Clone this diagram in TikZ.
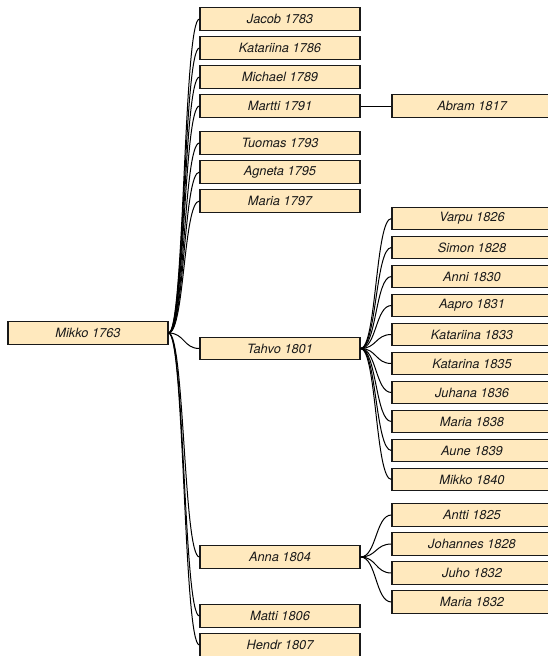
\documentclass[tikz,border=0pt]{standalone}
\usepackage{fontspec}
\setmainfont{TeX Gyre Heros}
\begin{document}
\begin{tikzpicture}[x=1pt,y=-1pt,
  pbox/.style={draw=black!90,line width=1.1pt,fill=boxfill,minimum width=160pt,minimum height=22.5pt,inner sep=0pt,
    font=\fontsize{12.8}{14}\selectfont\itshape,text=black!90},
  link/.style={draw=black,line width=1pt}]
\definecolor{boxfill}{RGB}{255,233,190}
\useasboundingbox (0,0) rectangle (548,656);
\clip (0,0) rectangle (548,656);
% level 0
\node[pbox] (mikko) at (88,333) {Mikko 1763};
% level 1
\node[pbox] (jacob) at (280,19) {Jacob 1783};
\node[pbox] (katariina1) at (280,48) {Katariina 1786};
\node[pbox] (michael) at (280,77) {Michael 1789};
\node[pbox] (martti) at (280,106) {Martti 1791};
\node[pbox] (tuomas) at (280,143) {Tuomas 1793};
\node[pbox] (agneta) at (280,172) {Agneta 1795};
\node[pbox] (maria1) at (280,201) {Maria 1797};
\node[pbox] (tahvo) at (280,348.5) {Tahvo 1801};
\node[pbox] (anna) at (280,557) {Anna 1804};
\node[pbox] (matti) at (280,616) {Matti 1806};
\node[pbox] (hendr) at (280,645) {Hendr 1807};
% level 2
\node[pbox] (abram) at (472,106) {Abram 1817};
\node[pbox] (varpu) at (472,218.5) {Varpu 1826};
\node[pbox] (simon) at (472,247.5) {Simon 1828};
\node[pbox] (anni) at (472,276.5) {Anni 1830};
\node[pbox] (aapro) at (472,305.5) {Aapro 1831};
\node[pbox] (katariina2) at (472,334.5) {Katariina 1833};
\node[pbox] (katarina) at (472,363.5) {Katarina 1835};
\node[pbox] (juhana) at (472,392.5) {Juhana 1836};
\node[pbox] (maria2) at (472,421.5) {Maria 1838};
\node[pbox] (aune) at (472,450.5) {Aune 1839};
\node[pbox] (mikko2) at (472,479.5) {Mikko 1840};
\node[pbox] (antti) at (472,515) {Antti 1825};
\node[pbox] (johannes) at (472,544) {Johannes 1828};
\node[pbox] (juho) at (472,573) {Juho 1832};
\node[pbox] (maria3) at (472,602) {Maria 1832};
% connectors
\foreach \c in {jacob,katariina1,michael,martti,tuomas,agneta,maria1,tahvo,anna,matti,hendr}
  \draw[link] (mikko.east) .. controls +(16,0) and +(-16,0) .. (\c.west);
\draw[link] (martti.east) -- (abram.west);
\foreach \c in {varpu,simon,anni,aapro,katariina2,katarina,juhana,maria2,aune,mikko2}
  \draw[link] (tahvo.east) .. controls +(16,0) and +(-16,0) .. (\c.west);
\foreach \c in {antti,johannes,juho,maria3}
  \draw[link] (anna.east) .. controls +(16,0) and +(-16,0) .. (\c.west);
\end{tikzpicture}
\end{document}
